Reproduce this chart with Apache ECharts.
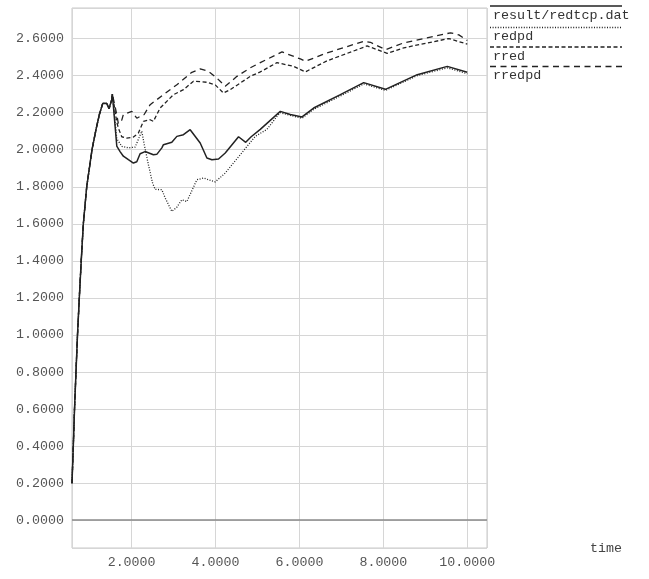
<!DOCTYPE html>
<html><head><meta charset="utf-8">
<script src="https://cdn.jsdelivr.net/npm/echarts@6/dist/echarts.min.js"></script>
<style>html,body{margin:0;padding:0;background:#fff}#c{width:649px;height:579px}</style>
</head><body><div id="c"></div>
<script>
const seriesNames = ['result/redtcp.dat', 'redpd', 'rred', 'rredpd'];
const xTickValues = [2, 4, 6, 8, 10];
const yTickStep = 0.2;

// shared start-up part of all runs: [time, value]
const rise = [[0.580,0.20],[0.611,0.40],[0.640,0.60],[0.675,0.80],[0.711,1.00],[0.754,1.20],[0.800,1.40],[0.850,1.60],[0.931,1.80],[1.057,2.00],[1.153,2.11],[1.232,2.19],[1.313,2.25],[1.36,2.245],[1.408,2.25],[1.463,2.222],[1.527,2.27],[1.542,2.30]];

const redtcpTail = [[1.647,2.02],[1.726,1.99],[1.804,1.965],[1.924,1.946],[2.043,1.928],[2.124,1.935],[2.203,1.978],[2.322,1.99],[2.520,1.973],[2.601,1.975],[2.721,2.01],[2.759,2.027],[2.959,2.04],[3.079,2.072],[3.236,2.081],[3.396,2.108],[3.635,2.036],[3.795,1.955],[3.914,1.946],[4.072,1.95],[4.232,1.982],[4.549,2.07],[4.72,2.04],[4.85,2.07],[5.067,2.11],[5.146,2.126],[5.544,2.207],[5.783,2.19],[6.062,2.177],[6.339,2.225],[6.976,2.297],[7.532,2.362],[8.050,2.326],[8.807,2.405],[9.523,2.45],[10.0,2.418]];

const redpdTail = [[1.647,2.06],[1.766,2.018],[1.924,2.01],[2.084,2.014],[2.243,2.10],[2.30,2.03],[2.40,1.92],[2.50,1.82],[2.561,1.786],[2.721,1.784],[2.80,1.74],[2.959,1.667],[3.079,1.69],[3.198,1.73],[3.317,1.72],[3.556,1.838],[3.714,1.847],[3.993,1.826],[4.232,1.874],[4.589,1.973],[4.947,2.072],[5.227,2.11],[5.465,2.18],[5.544,2.20],[5.783,2.185],[6.062,2.17],[6.339,2.218],[6.976,2.29],[7.532,2.355],[8.050,2.32],[8.807,2.40],[9.523,2.442],[10.0,2.41]];

const rredTail = [[1.647,2.15],[1.685,2.117],[1.766,2.07],[1.885,2.063],[2.043,2.068],[2.162,2.09],[2.282,2.153],[2.442,2.162],[2.520,2.153],[2.680,2.225],[2.998,2.297],[3.236,2.324],[3.475,2.37],[3.795,2.364],[3.993,2.35],[4.191,2.306],[4.351,2.324],[4.828,2.396],[5.067,2.42],[5.465,2.47],[5.862,2.45],[6.141,2.42],[6.659,2.48],[7.613,2.56],[8.091,2.52],[8.487,2.55],[9.561,2.60],[10.0,2.57]];

const rredpdTail = [[1.647,2.19],[1.685,2.14],[1.766,2.16],[1.804,2.19],[1.845,2.20],[2.005,2.207],[2.124,2.17],[2.203,2.18],[2.30,2.19],[2.442,2.243],[2.759,2.297],[3.079,2.351],[3.437,2.418],[3.635,2.436],[3.833,2.423],[4.033,2.387],[4.232,2.342],[4.511,2.396],[4.828,2.442],[5.067,2.47],[5.585,2.528],[6.022,2.49],[6.141,2.477],[6.659,2.523],[7.532,2.585],[7.692,2.58],[8.050,2.54],[8.487,2.577],[9.601,2.631],[9.800,2.62],[10.0,2.59]];

const tails = [redtcpTail, redpdTail, rredTail, rredpdTail];
const lineTypes = ['solid', [1, 1.6], [4, 2.5], [6, 4.5]];
const lineWidths = [1.5, 1.3, 1.3, 1.3];

const MONO = '"Liberation Mono", "DejaVu Sans Mono", monospace';
const chart = echarts.init(document.getElementById('c'), null, {renderer: 'canvas'});

const series = seriesNames.map((name, i) => {
  const s = {
    name: name, type: 'line', data: rise.concat(tails[i]),
    showSymbol: false, symbol: 'none', smooth: false, z: 10 - i,
    lineStyle: {color: '#222', width: lineWidths[i], type: lineTypes[i]}
  };
  if (i === 0) {
    s.markLine = {silent: true, symbol: 'none', label: {show: false},
      lineStyle: {color: '#8a8a8a', type: 'solid', width: 1.5},
      data: [{yAxis: 0}], z: 1};
  }
  return s;
});

// legend drawn as graphic entries (line above the name)
const legendGraphics = [];
seriesNames.forEach((name, i) => {
  const ly = [6, 27.5, 47, 66.5][i];
  legendGraphics.push({type: 'line', shape: {x1: 490, y1: ly, x2: 622, y2: ly},
    style: {stroke: '#222', lineWidth: lineWidths[i], lineDash: lineTypes[i] === 'solid' ? null : lineTypes[i]}});
  legendGraphics.push({type: 'text', left: 493, top: ly + 2.5,
    style: {text: name, font: '13.4px ' + MONO, fill: '#333'}});
});

chart.setOption({
  animation: false,
  backgroundColor: '#fff',
  grid: {left: 72, right: 162, top: 8, bottom: 31, show: true, borderColor: '#c8c8c8', borderWidth: 1, containLabel: false},
  xAxis: {
    type: 'value', min: 0.58, max: 10.47, splitNumber: 5, minInterval: 2, maxInterval: 2,
    axisLine: {show: false, onZero: false}, axisTick: {show: false},
    splitLine: {show: true, lineStyle: {color: '#d6d6d6', width: 1}},
    axisLabel: {
      margin: 8, color: '#555', fontFamily: MONO, fontSize: 13.3,
      showMinLabel: false, showMaxLabel: false,
      formatter: v => xTickValues.some(t => Math.abs(t - v) < 1e-6) ? v.toFixed(4) : ''
    },
    name: 'time', nameLocation: 'end', nameGap: 103,
    nameTextStyle: {color: '#444', fontFamily: MONO, fontSize: 13.3, verticalAlign: 'middle'}
  },
  yAxis: {
    type: 'value', min: -0.15, max: 2.765, splitNumber: 15, minInterval: yTickStep, maxInterval: yTickStep,
    axisLine: {show: false}, axisTick: {show: false},
    splitLine: {show: true, lineStyle: {color: '#d6d6d6', width: 1}},
    axisLabel: {
      margin: 8, color: '#555', fontFamily: MONO, fontSize: 13.3,
      showMinLabel: false, showMaxLabel: false,
      formatter: v => Math.abs(v / yTickStep - Math.round(v / yTickStep)) < 1e-6 ? v.toFixed(4) : ''
    }
  },
  series: series,
  graphic: legendGraphics
});
</script>
</body></html>
